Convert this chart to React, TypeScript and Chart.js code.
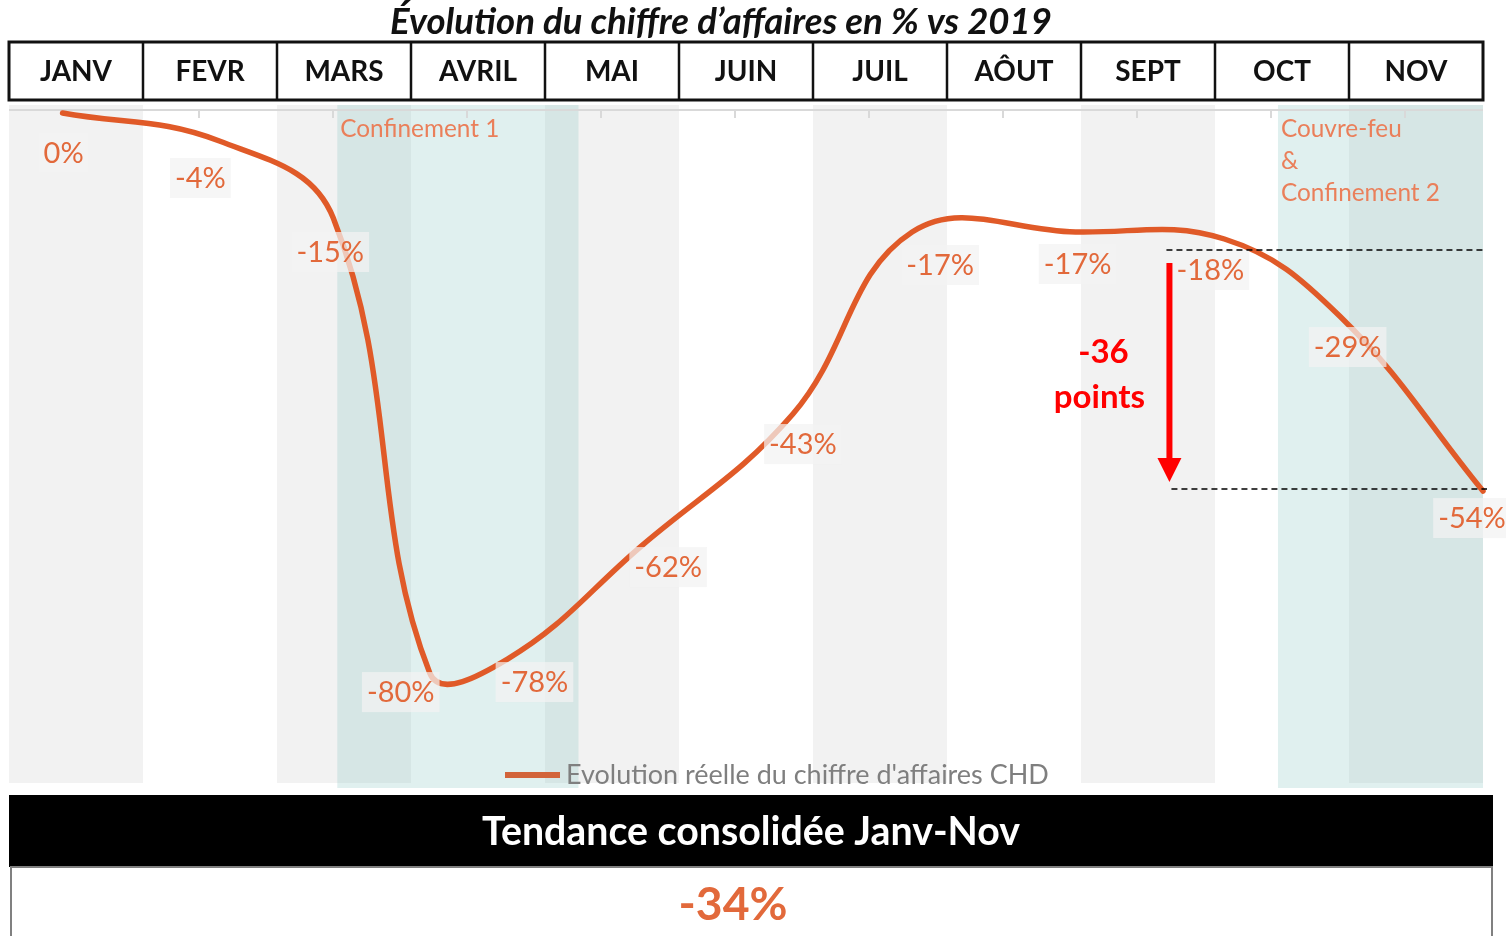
import React, { useEffect, useRef } from 'react';
import { Chart, registerables } from 'chart.js';

Chart.register(...registerables);

// ---------- data ----------
const TITLE = 'Évolution du chiffre d’affaires en % vs 2019';
const MONTHS = ['JANV', 'FEVR', 'MARS', 'AVRIL', 'MAI', 'JUIN', 'JUIL', 'AÔUT', 'SEPT', 'OCT', 'NOV'];
// evolution vs 2019 (%) and the position of each reading, in months since 1 January
const VALUES = [0, -4, -15, -80, -78, -62, -43, -17, -17, -18, -29, -54];
const POINT_MONTHS = [0.4, 1.57, 2.42, 3.14, 3.72, 4.71, 5.85, 6.74, 7.96, 9.07, 9.93, 11.0];
const SERIES_NAME = "Evolution réelle du chiffre d'affaires CHD";
const PERIOD_LABELS = [['Confinement 1'], ['Couvre-feu', '&', 'Confinement 2']];
const PERIOD_START = [2.45, 9.47];
const PERIOD_END = [4.25, 11.0];
const DROP_FROM = -18;
const DROP_TO = -54;
const DROP_AT = 8.66;
const TREND_TITLE = 'Tendance consolidée Janv-Nov';
const TREND_VALUE = -34;

// ---------- styles ----------
const LINE_COLOR = '#E05A28';
const LABEL_COLOR = '#E2693B';
const PERIOD_TEXT_COLOR = '#EA7F5A';
const FONT = 'Lato, "Open Sans", sans-serif';
// label placement relative to each point (px)
const LABEL_SHIFT = [[1, 40], [-19, 37], [-3, 34], [-29, 19], [27, 23], [28, 20], [10, 30], [28, 33], [2, 32], [-14, 31], [8, 31], [-11, 27]];

function fitSize(ctx: CanvasRenderingContext2D, text: string, style: string, target: number) {
  ctx.font = `${style} 100px ${FONT}`;
  const w = ctx.measureText(text).width;
  return (100 * target) / w;
}

const decor = {
  id: 'decor',
  beforeDatasetsDraw(chart: any) {
    const { ctx, chartArea: a, scales } = chart;
    const m = scales.m;
    ctx.save();
    // alternating month bands
    MONTHS.forEach((_, i) => {
      const x0 = m.getPixelForValue(i);
      const x1 = m.getPixelForValue(i + 1);
      ctx.fillStyle = i % 2 === 0 ? '#F2F2F2' : '#FFFFFF';
      ctx.fillRect(x0, a.top, x1 - x0, a.bottom - a.top);
    });
    // lockdown periods
    PERIOD_START.forEach((s, k) => {
      const x0 = m.getPixelForValue(s);
      const x1 = m.getPixelForValue(PERIOD_END[k]);
      ctx.fillStyle = 'rgba(120,190,185,0.23)';
      ctx.fillRect(x0, a.top, x1 - x0, a.bottom - a.top + 5);
    });
    // top category axis line + ticks
    ctx.strokeStyle = '#D9D9D9';
    ctx.lineWidth = 2;
    ctx.beginPath();
    ctx.moveTo(a.left, a.top + 5);
    ctx.lineTo(a.right, a.top + 5);
    for (let i = 1; i < MONTHS.length; i++) {
      const x = Math.round(m.getPixelForValue(i + 0.42));
      ctx.moveTo(x, a.top + 5);
      ctx.lineTo(x, a.top + 13);
    }
    ctx.stroke();
    // period labels
    ctx.fillStyle = PERIOD_TEXT_COLOR;
    ctx.textBaseline = 'middle';
    ctx.textAlign = 'left';
    const ps = fitSize(ctx, 'Confinement 1', '400', 159);
    ctx.font = `400 ${ps}px ${FONT}`;
    PERIOD_LABELS.forEach((lines, k) => {
      const x0 = m.getPixelForValue(PERIOD_START[k]);
      lines.forEach((t, j) => ctx.fillText(t, x0 + 3, a.top + 24 + j * 32));
    });
    ctx.restore();
  },
  afterDatasetsDraw(chart: any) {
    const { ctx, chartArea: a, scales } = chart;
    const meta = chart.getDatasetMeta(0);
    ctx.save();
    ctx.font = `400 29px ${FONT}`;
    ctx.textAlign = 'center';
    ctx.textBaseline = 'middle';
    VALUES.forEach((v, i) => {
      const p = meta.data[i];
      const t = `${v}%`;
      const cx = p.x + LABEL_SHIFT[i][0];
      const cy = p.y + LABEL_SHIFT[i][1];
      const w = ctx.measureText(t).width + 10;
      ctx.fillStyle = 'rgba(243,243,243,0.72)';
      ctx.fillRect(cx - w / 2, cy - 20, w, 40);
      ctx.fillStyle = LABEL_COLOR;
      ctx.fillText(t, cx, cy + 1);
    });

    // drop annotation
    const m = scales.m;
    const y = scales.y;
    const ax = m.getPixelForValue(DROP_AT);
    const yFrom = y.getPixelForValue(DROP_FROM);
    const yTo = y.getPixelForValue(DROP_TO);
    ctx.strokeStyle = '#000';
    ctx.lineWidth = 1.5;
    ctx.setLineDash([6, 4]);
    ctx.beginPath();
    ctx.moveTo(ax - 3, yFrom + 11);
    ctx.lineTo(a.right, yFrom + 11);
    ctx.moveTo(ax + 2, yTo - 2);
    ctx.lineTo(a.right + 4, yTo - 2);
    ctx.stroke();
    ctx.setLineDash([]);
    ctx.fillStyle = '#FF0000';
    ctx.fillRect(ax - 3, yFrom + 24, 6, yTo - yFrom - 52);
    ctx.beginPath();
    ctx.moveTo(ax - 12, yTo - 33);
    ctx.lineTo(ax + 12, yTo - 33);
    ctx.lineTo(ax, yTo - 9);
    ctx.closePath();
    ctx.fill();
    ctx.font = `700 33px ${FONT}`;
    ctx.textAlign = 'center';
    const mid = (yFrom + yTo) / 2;
    ctx.fillText(`${DROP_TO - DROP_FROM}`, ax - 66, mid - 13);
    ctx.fillText('points', ax - 70, mid + 32);

    // legend
    ctx.strokeStyle = '#D2643A';
    ctx.lineWidth = 6;
    ctx.beginPath();
    ctx.moveTo(505, a.bottom - 8);
    ctx.lineTo(560, a.bottom - 8);
    ctx.stroke();
    ctx.fillStyle = '#7F7F7F';
    ctx.textAlign = 'left';
    const ls = fitSize(ctx, SERIES_NAME, '400', 483);
    ctx.font = `400 ${ls}px ${FONT}`;
    ctx.fillText(SERIES_NAME, 566, a.bottom - 8);
    ctx.restore();
  },
  afterDraw(chart: any) {
    const { ctx, chartArea: a, scales } = chart;
    const m = scales.m;
    ctx.save();
    // title
    ctx.fillStyle = '#111';
    ctx.textAlign = 'center';
    ctx.textBaseline = 'middle';
    const ts = fitSize(ctx, TITLE, 'italic 700', 662);
    ctx.font = `italic 700 ${ts}px ${FONT}`;
    ctx.fillText(TITLE, 721, 22);
    // month header
    const top = 42;
    const bottom = 100;
    ctx.fillStyle = '#fff';
    ctx.fillRect(a.left, top, a.right - a.left, bottom - top);
    ctx.strokeStyle = '#111';
    ctx.lineWidth = 3;
    ctx.strokeRect(a.left, top, a.right - a.left, bottom - top);
    ctx.lineWidth = 2.5;
    ctx.beginPath();
    for (let i = 1; i < MONTHS.length; i++) {
      const x = m.getPixelForValue(i);
      ctx.moveTo(x, top);
      ctx.lineTo(x, bottom);
    }
    ctx.stroke();
    const hs = fitSize(ctx, 'AVRIL', '700', 78);
    ctx.font = `700 ${hs}px ${FONT}`;
    ctx.fillStyle = '#111';
    MONTHS.forEach((t, i) => {
      ctx.fillText(t, m.getPixelForValue(i + 0.5), (top + bottom) / 2 + 1);
    });
    // trend box
    const bx0 = a.left;
    const bx1 = 1493;
    ctx.fillStyle = '#000';
    ctx.fillRect(bx0, 795, bx1 - bx0, 72);
    ctx.strokeStyle = '#808080';
    ctx.lineWidth = 2;
    ctx.strokeRect(bx0 + 2, 867, bx1 - bx0 - 3, 80);
    ctx.fillStyle = '#fff';
    const bs = fitSize(ctx, TREND_TITLE, '700', 538);
    ctx.font = `700 ${bs}px ${FONT}`;
    ctx.fillText(TREND_TITLE, 751, 832);
    const vs = fitSize(ctx, `${TREND_VALUE}%`, '700', 109);
    ctx.font = `700 ${vs}px ${FONT}`;
    ctx.fillStyle = LABEL_COLOR;
    ctx.fillText(`${TREND_VALUE}%`, 733, 905);
    ctx.restore();
  },
};

export default function App() {
  const ref = useRef<HTMLCanvasElement>(null);
  useEffect(() => {
    document.body.style.margin = '0';
    const canvas = ref.current!;
    const chart = new Chart(canvas, {
      type: 'line',
      data: {
        datasets: [
          {
            label: SERIES_NAME,
            data: VALUES.map((v, i) => ({ x: POINT_MONTHS[i], y: v })),
            xAxisID: 'm',
            yAxisID: 'y',
            borderColor: LINE_COLOR,
            borderWidth: 5.5,
            tension: 0.4,
            pointRadius: 0,
            borderCapStyle: 'round',
            borderJoinStyle: 'round',
            fill: false,
            clip: false as any,
          },
        ],
      },
      options: {
        responsive: false,
        animation: false,
        devicePixelRatio: 1,
        layout: { padding: { left: 9, right: 23, top: 105, bottom: 153 } },
        plugins: {
          legend: { display: false },
          title: { display: false },
          tooltip: { enabled: false },
        },
        scales: {
          m: { type: 'linear', axis: 'x', position: 'bottom', display: false, min: 0, max: 11 },
          y: { type: 'linear', display: false, min: -95.7, max: 1.14 },
        },
      } as any,
      plugins: [decor],
    });
    return () => chart.destroy();
  }, []);
  return <canvas ref={ref} width={1506} height={936} style={{ display: 'block' }} />;
}
